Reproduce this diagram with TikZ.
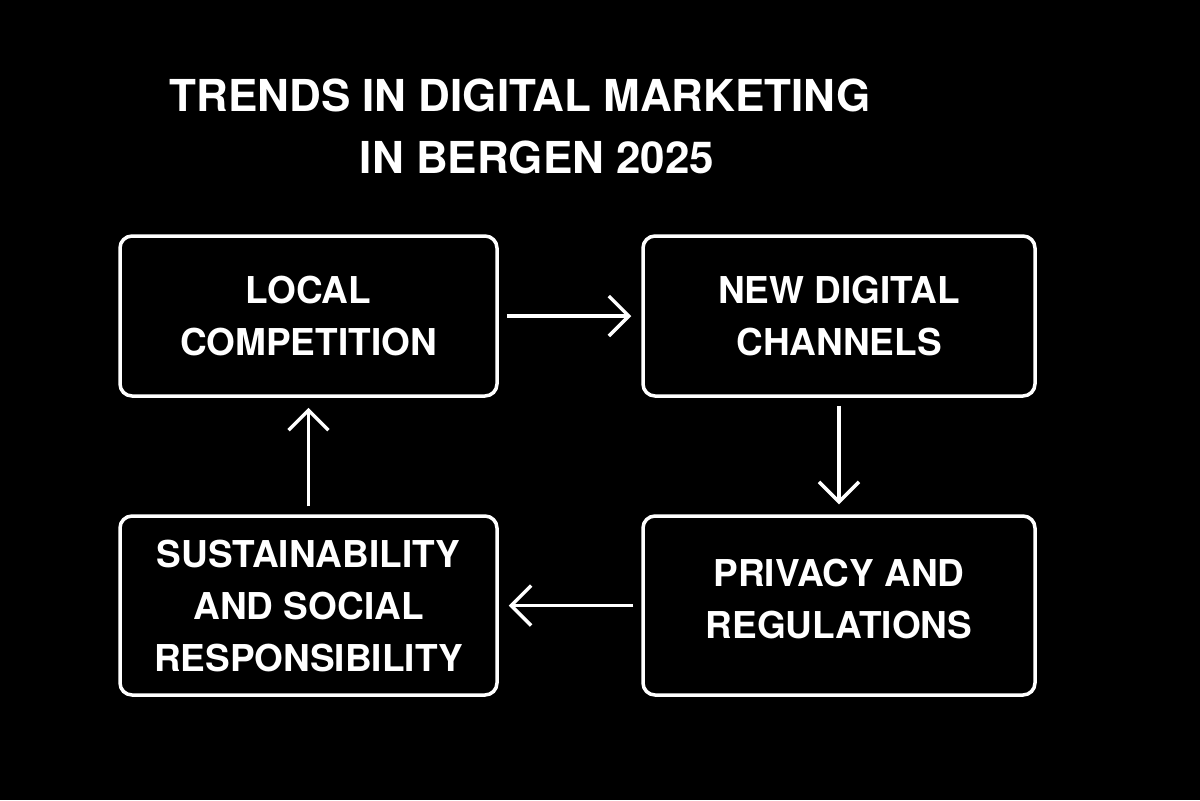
\documentclass[tikz,border=0pt]{standalone}
\usepackage{fontspec}
\setmainfont{TeX Gyre Heros}
\usetikzlibrary{arrows.meta}
\tikzset{
  trend/.style={draw=white, line width=1.75pt, rounded corners=6pt, align=center, text=white,
    font=\bfseries\fontsize{18.5}{26}\selectfont},
  headline/.style={text=white, font=\bfseries\fontsize{22}{28}\selectfont},
  flow/.style={draw=white, line width=1.75pt, -{Straight Barb[length=10pt,width=20pt]},
    shorten >=5pt, shorten <=4pt}
}
\begin{document}
\begin{tikzpicture}[x=0.5pt, y=-0.5pt]
  \fill[black] (0,0) rectangle (1200,800);
  \draw (520,95) node[headline] (title1) {TRENDS IN DIGITAL MARKETING};
  \draw (537,157) node[headline] (title2) {IN BERGEN 2025};
  \draw (308.5,316) node[trend, minimum width=188.5pt, minimum height=80pt] (local) {LOCAL\\COMPETITION};
  \draw (839,316) node[trend, minimum width=196pt, minimum height=80pt] (channels) {NEW DIGITAL\\CHANNELS};
  \draw (839,605.5) node[trend, minimum width=196pt, minimum height=89.5pt, text depth=7pt] (privacy) {PRIVACY AND\\REGULATIONS};
  \draw (308.5,605.5) node[trend, minimum width=188.5pt, minimum height=89.5pt] (social) {SUSTAINABILITY\\AND SOCIAL\\RESPONSIBILITY};
  \path [flow] (local) -- (channels);
  \path [flow] (channels) -- (privacy);
  \path [flow] (privacy) -- (social);
  \path [flow] (social) -- (local);
\end{tikzpicture}
\end{document}
